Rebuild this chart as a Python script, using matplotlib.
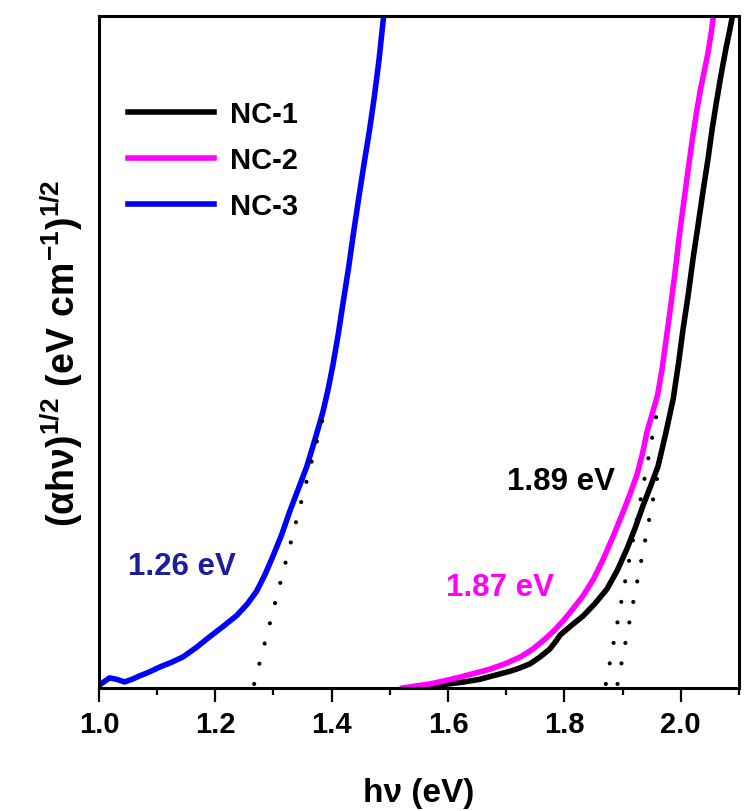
import numpy as np
import matplotlib
matplotlib.use('Agg')
from matplotlib import pyplot as plt
from matplotlib.ticker import MultipleLocator

plt.rcParams['font.family'] = ['Liberation Sans', 'DejaVu Sans']
plt.rcParams['font.weight'] = 'bold'
plt.rcParams['mathtext.fontset'] = 'custom'
plt.rcParams['mathtext.rm'] = 'Liberation Sans:bold'
plt.rcParams['mathtext.it'] = 'Liberation Sans:bold'
plt.rcParams['mathtext.bf'] = 'Liberation Sans:bold'

# Tauc plot data, photon energy (eV) vs (alpha h nu)^1/2 (arb. units)
nc1_e = [1.541, 1.570, 1.600, 1.628, 1.655, 1.681, 1.707, 1.724, 1.741, 1.758,
         1.775, 1.784, 1.793, 1.812, 1.832, 1.852, 1.873, 1.891, 1.908, 1.922,
         1.935, 1.948, 1.961, 1.974, 1.987, 1.996, 2.004, 2.013, 2.021, 2.030,
         2.039, 2.047, 2.054, 2.061, 2.068, 2.073, 2.078, 2.084, 2.090]
nc1_y = [0.0, 0.3, 0.6, 0.9, 1.3, 1.9, 2.5, 3.0, 3.6, 4.6,
         5.8, 6.8, 7.9, 9.3, 10.7, 12.5, 14.7, 17.5, 20.8, 23.9,
         27.1, 30.0, 33.0, 37.8, 43.0, 48.2, 53.4, 58.6, 63.8, 69.0,
         74.3, 78.8, 83.2, 87.0, 90.6, 93.0, 95.3, 97.8, 100.5]

nc2_e = [1.522, 1.545, 1.569, 1.595, 1.620, 1.646, 1.672, 1.698, 1.724, 1.746,
         1.767, 1.783, 1.798, 1.815, 1.832, 1.850, 1.867, 1.884, 1.901, 1.913,
         1.925, 1.934, 1.942, 1.951, 1.960, 1.968, 1.975, 1.983, 1.991, 1.998,
         2.006, 2.013, 2.020, 2.027, 2.034, 2.041, 2.047, 2.052, 2.057]
nc2_y = [0.0, 0.3, 0.6, 1.1, 1.6, 2.2, 2.8, 3.6, 4.6, 5.8,
         7.3, 8.6, 10.0, 11.8, 13.7, 16.2, 19.2, 22.6, 26.2, 28.9,
         31.8, 34.8, 38.1, 40.8, 43.5, 47.5, 51.9, 57.0, 62.4, 67.6,
         72.8, 77.3, 81.7, 85.6, 89.1, 92.0, 94.6, 97.3, 100.5]

nc3_e = [1.000, 1.010, 1.018, 1.030, 1.044, 1.057, 1.070, 1.087, 1.104, 1.124,
         1.144, 1.167, 1.190, 1.214, 1.237, 1.255, 1.271, 1.285, 1.299, 1.314,
         1.328, 1.343, 1.357, 1.371, 1.385, 1.394, 1.402, 1.411, 1.419, 1.429,
         1.438, 1.447, 1.456, 1.465, 1.473, 1.481, 1.490]
nc3_y = [0.4, 1.0, 1.5, 1.3, 0.9, 1.3, 1.8, 2.4, 3.1, 3.8,
         4.6, 6.0, 7.6, 9.2, 10.8, 12.5, 14.4, 16.8, 19.6, 22.8,
         26.3, 29.7, 32.9, 36.9, 41.1, 44.5, 48.0, 52.5, 57.0, 62.5,
         68.0, 73.2, 78.2, 83.0, 87.8, 93.2, 100.5]

# band gaps from the linear fits: intercept, slope, top of fitted segment
gaps = [1.89, 1.87, 1.265]
slopes = [450, 460, 335]
fit_top = [32, 42, 41]
gap_text = ['1.89 eV', '1.87 eV', '1.26 eV']
text_pos = [(1.794, 30.8), (1.689, 15.0), (1.142, 18.2)]
text_col = ['black', '#ff00ff', '#1c1c9e']

labels = ['NC-1', 'NC-2', 'NC-3']
colors = ['black', '#ff00ff', '#0000ff']

fig = plt.figure(figsize=(7.52, 8.12), dpi=100)
ax = fig.add_axes([0.1316, 0.1515, 0.851, 0.8275])

for e, y, c, lab in zip([nc1_e, nc2_e, nc3_e], [nc1_y, nc2_y, nc3_y], colors, labels):
    ax.plot(e, y, color=c, lw=4.0, label=lab, solid_joinstyle='round')

for g, s, top in zip(gaps, slopes, fit_top):
    yy = np.array([0.6, top])
    ax.plot(g + yy / s, yy, color='black', lw=3.0,
            linestyle=(0, (0.01, 5.0)), dash_capstyle='round')

for t, (x, y), c in zip(gap_text, text_pos, text_col):
    ax.text(x, y, t, color=c, fontsize=22.5, fontweight='bold', ha='center', va='center')

ax.set_xlim(1.0, 2.1)
ax.set_ylim(0, 100)
ax.xaxis.set_major_locator(MultipleLocator(0.2))
ax.xaxis.set_minor_locator(MultipleLocator(0.1))
ax.set_yticks([])
ax.tick_params(axis='x', which='major', direction='out', length=10, width=1.6,
               labelsize=21, pad=6)
ax.tick_params(axis='x', which='minor', direction='out', length=5, width=1.6)
ax.tick_params(top=False, right=False)
for sp in ax.spines.values():
    sp.set_linewidth(2.2)

ax.set_xlabel('h\u03bd (eV)', fontsize=24, fontweight='bold', labelpad=28)
ax.set_ylabel(r'$(\alpha h\nu)^{1/2}\ (eV\ cm^{-1})^{1/2}$', fontsize=27, labelpad=10)

ax.legend(loc='upper left', bbox_to_anchor=(0.045, 0.875), frameon=False,
          fontsize=21, handlelength=2.95, handletextpad=0.55, labelspacing=0.62,
          borderpad=0, borderaxespad=0)

plt.savefig('out.png', dpi=100)
